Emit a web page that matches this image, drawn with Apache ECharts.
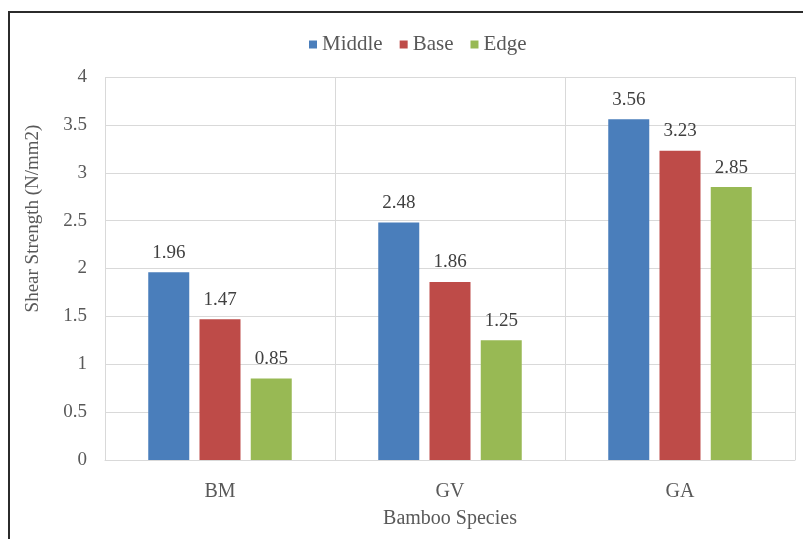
<!DOCTYPE html>
<html><head><meta charset="utf-8">
<script src="https://cdn.jsdelivr.net/npm/echarts@6/dist/echarts.min.js"></script>
<style>html,body{margin:0;padding:0;background:#fff}#c{width:803px;height:539px}</style>
</head><body><div id="c"></div>
<script>
const categories = ['BM', 'GV', 'GA'];
const middle = [1.96, 2.48, 3.56];
const base = [1.47, 1.86, 3.23];
const edge = [0.85, 1.25, 2.85];
const yTicks = [0, 0.5, 1, 1.5, 2, 2.5, 3, 3.5, 4];

const font = '"Liberation Serif", "Times New Roman", serif';
const txt = '#595959';
const chart = echarts.init(document.getElementById('c'));
const lbl = {show: true, position: 'top', distance: 10, color: '#404040', fontFamily: font, fontSize: 19};
chart.setOption({
  animation: false,
  graphic: [{type: 'rect', shape: {x: 9, y: 12, width: 820, height: 600}, style: {fill: 'none', stroke: '#2b2b2b', lineWidth: 2}}],
  legend: {top: 29, left: 304, itemWidth: 8, itemHeight: 8, itemGap: 17,
    textStyle: {color: txt, fontFamily: font, fontSize: 21}, icon: 'rect'},
  grid: {left: 105, right: 8, top: 77, bottom: 79},
  xAxis: {type: 'category', data: categories,
    name: 'Bamboo Species', nameLocation: 'middle', nameGap: 49,
    nameTextStyle: {color: txt, fontFamily: font, fontSize: 20},
    axisLine: {lineStyle: {color: '#d9d9d9'}}, axisTick: {show: false},
    axisLabel: {color: txt, fontFamily: font, fontSize: 20, margin: 22},
    splitLine: {show: true, lineStyle: {color: '#d9d9d9'}}},
  yAxis: {type: 'value', min: 0, max: 4, interval: 0.5,
    name: 'Shear Strength (N/mm2)', nameLocation: 'middle', nameGap: 62,
    nameTextStyle: {color: txt, fontFamily: font, fontSize: 19, padding: [0, 0, 0, 100]},
    axisLine: {show: false}, axisTick: {show: false},
    axisLabel: {color: txt, fontFamily: font, fontSize: 19, margin: 18,
      formatter: v => yTicks.includes(v) ? String(v) : ''},
    splitLine: {lineStyle: {color: '#d9d9d9'}}},
  series: [
    {name: 'Middle', type: 'bar', data: middle, barWidth: 41, barGap: '25%', itemStyle: {color: '#4a7ebb'}, label: lbl},
    {name: 'Base', type: 'bar', data: base, barWidth: 41, barGap: '25%', itemStyle: {color: '#be4b48'}, label: lbl},
    {name: 'Edge', type: 'bar', data: edge, barWidth: 41, barGap: '25%', itemStyle: {color: '#98b954'}, label: lbl}
  ]
});
</script></body></html>
